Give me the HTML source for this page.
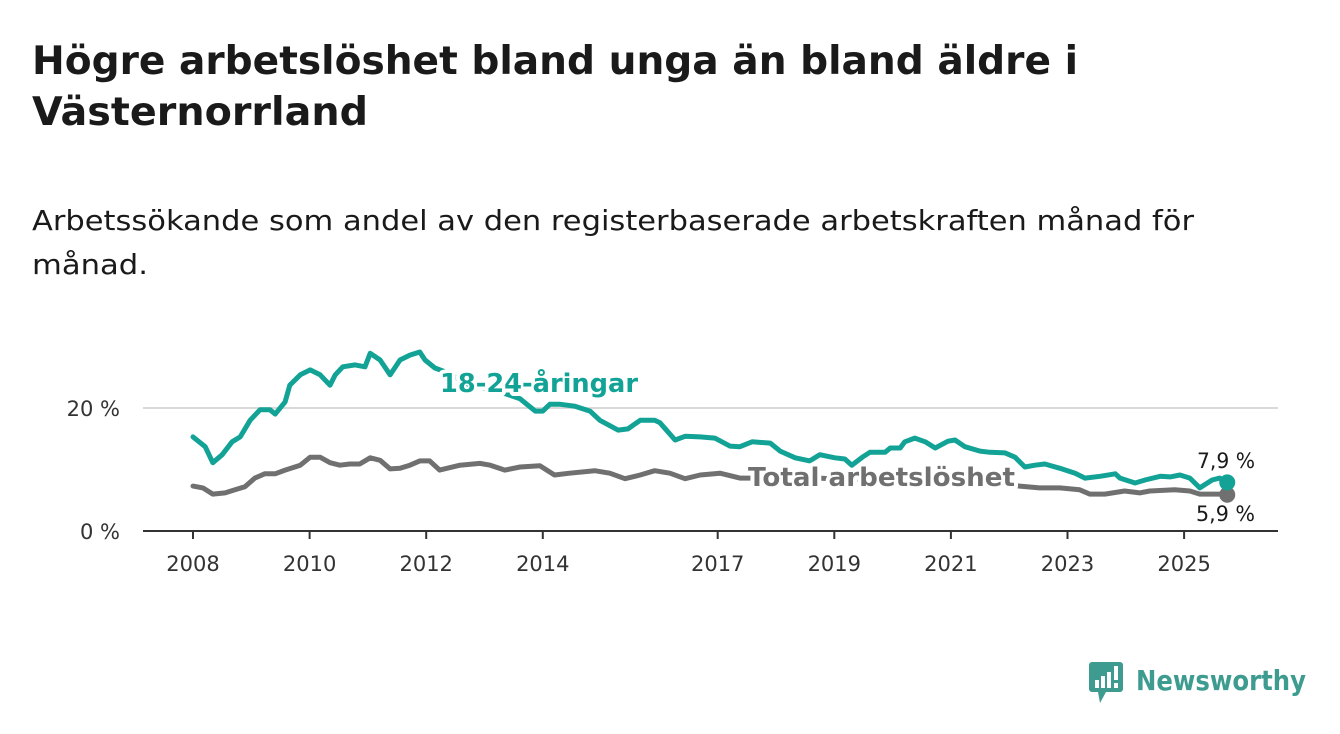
<!DOCTYPE html>
<html><head><meta charset="utf-8"><style>
html,body{margin:0;padding:0;background:#fff;width:1340px;height:734px;overflow:hidden}
svg{display:block;font-family:"DejaVu Sans","Liberation Sans",sans-serif}
</style></head><body>
<svg id="chart" width="1340" height="734" viewBox="0 0 1340 734">
<text x="32" y="74" font-size="39" font-weight="bold" fill="#1a1a1a" textLength="1046" lengthAdjust="spacingAndGlyphs">Högre arbetslöshet bland unga än bland äldre i</text>
<text x="32" y="125" font-size="39" font-weight="bold" fill="#1a1a1a" textLength="336" lengthAdjust="spacingAndGlyphs">Västernorrland</text>
<text x="32" y="230" font-size="28" fill="#1a1a1a" textLength="1162" lengthAdjust="spacingAndGlyphs">Arbetssökande som andel av den registerbaserade arbetskraften månad för</text>
<text x="32" y="274" font-size="28" fill="#1a1a1a" textLength="116" lengthAdjust="spacingAndGlyphs">månad.</text>
<g id="grid"></g>
<g id="series"></g>
<g id="labels"></g>
<g>
<rect x="1089" y="662" width="34" height="30" rx="3" fill="#3d9c8f"/>
<polygon points="1098,692 1106,692 1100,703" fill="#3d9c8f"/>
<rect x="1095" y="680" width="4" height="8" fill="#fff"/>
<rect x="1101" y="676" width="4" height="12" fill="#fff"/>
<rect x="1107" y="672" width="4" height="16" fill="#fff"/>
<rect x="1114" y="666" width="4" height="14" fill="#fff"/>
<rect x="1114" y="683" width="4" height="5" fill="#fff"/>
<text x="1136" y="690" font-size="28" font-weight="bold" fill="#3d9c8f" textLength="170" lengthAdjust="spacingAndGlyphs">Newsworthy</text>
</g>
</svg>
<script>
const youthYears=[2008.00,2008.21,2008.34,2008.50,2008.67,2008.81,2008.98,2009.15,2009.32,2009.41,2009.58,2009.66,2009.84,2010.01,2010.18,2010.35,2010.44,2010.57,2010.78,2010.95,2011.04,2011.21,2011.38,2011.46,2011.55,2011.72,2011.89,2011.98,2012.15,2012.32,2012.75,2013.27,2013.61,2013.87,2014.00,2014.12,2014.30,2014.55,2014.81,2014.98,2015.29,2015.46,2015.67,2015.92,2016.01,2016.27,2016.44,2016.70,2016.95,2017.21,2017.38,2017.59,2017.90,2018.07,2018.33,2018.58,2018.75,2019.01,2019.18,2019.30,2019.48,2019.61,2019.87,2019.96,2020.13,2020.21,2020.38,2020.56,2020.73,2020.95,2021.07,2021.24,2021.50,2021.67,2021.93,2022.10,2022.27,2022.44,2022.61,2022.87,2023.13,2023.30,2023.56,2023.82,2023.90,2024.16,2024.33,2024.59,2024.76,2024.93,2025.10,2025.27,2025.48,2025.61,2025.74];
const youthValues=[15.3,13.7,11.1,12.4,14.5,15.3,18.0,19.7,19.7,19.0,21.0,23.7,25.4,26.2,25.4,23.7,25.4,26.7,27.0,26.7,28.9,27.8,25.4,26.5,27.8,28.6,29.1,27.8,26.5,25.9,23.7,22.6,21.5,19.5,19.5,20.6,20.6,20.3,19.5,18.0,16.4,16.6,18.0,18.0,17.6,14.8,15.4,15.3,15.1,13.8,13.7,14.5,14.3,13.0,11.9,11.4,12.4,11.9,11.7,10.7,12.0,12.8,12.8,13.5,13.5,14.5,15.1,14.5,13.5,14.6,14.8,13.7,13.0,12.8,12.7,12.0,10.4,10.7,10.9,10.2,9.4,8.6,8.9,9.3,8.6,7.8,8.3,8.9,8.8,9.1,8.6,7.0,8.3,8.6,7.9];
const totalYears=[2008.00,2008.17,2008.34,2008.55,2008.72,2008.89,2009.06,2009.23,2009.41,2009.58,2009.84,2010.01,2010.18,2010.35,2010.52,2010.69,2010.86,2011.04,2011.21,2011.38,2011.55,2011.72,2011.89,2012.06,2012.23,2012.58,2012.92,2013.10,2013.35,2013.61,2013.95,2014.20,2014.46,2014.89,2015.15,2015.41,2015.67,2015.92,2016.18,2016.44,2016.70,2017.04,2017.38,2017.72,2018.24,2018.75,2019.27,2019.78,2020.30,2020.81,2021.33,2021.84,2022.18,2022.52,2022.87,2023.21,2023.38,2023.64,2023.98,2024.24,2024.41,2024.84,2025.10,2025.27,2025.61,2025.74];
const totalValues=[7.3,7.0,6.0,6.2,6.7,7.2,8.6,9.3,9.3,9.9,10.7,12.0,12.0,11.1,10.7,10.9,10.9,11.9,11.5,10.1,10.2,10.7,11.4,11.4,9.9,10.7,11.0,10.7,9.9,10.4,10.6,9.1,9.4,9.8,9.4,8.5,9.1,9.8,9.4,8.5,9.1,9.4,8.6,8.6,8.3,8.6,8.3,8.5,8.7,8.9,8.5,7.8,7.3,7.0,7.0,6.7,6.0,6.0,6.5,6.2,6.5,6.7,6.5,6.0,6.0,5.9];
const xTicks=[2008,2010,2012,2014,2017,2019,2021,2023,2025];
const yTicks=[0,20];
const yTickLabels=["0 %","20 %"];

const NS="http://www.w3.org/2000/svg";
const xS=y=>193+(y-2008)*58.3;
const yS=v=>531-v*6.15;
function mk(tag,attrs,parent){const e=document.createElementNS(NS,tag);for(const k in attrs)e.setAttribute(k,attrs[k]);parent.appendChild(e);return e;}
const grid=document.getElementById('grid'),series=document.getElementById('series'),labels=document.getElementById('labels');
yTicks.forEach((t,i)=>{
  if(t!==0){const g=mk('line',{x1:143,x2:1278,y1:yS(t),y2:yS(t),stroke:'#d9d9d9','stroke-width':2},grid);
  
  }
  const l=mk('text',{x:120,y:yS(t)+8,'font-size':21,fill:'#333','text-anchor':'end'},grid);
  l.textContent=yTickLabels[i];
  
  
});
const ax=mk('line',{x1:143,x2:1278,y1:531,y2:531,stroke:'#333','stroke-width':2},grid);


xTicks.forEach(t=>{
  const tk=mk('line',{x1:xS(t),x2:xS(t),y1:531,y2:539,stroke:'#333','stroke-width':2},grid);
  
  
  const l=mk('text',{x:xS(t),y:571,'font-size':21,fill:'#333','text-anchor':'middle'},grid);
  l.textContent=t;
  
  
});
function line(xs,vs,color,name){
  const d=xs.map((x,i)=>(i?'L':'M')+xS(x).toFixed(1)+','+yS(vs[i]).toFixed(1)).join('');
  const p=mk('path',{d:d,fill:'none',stroke:color,'stroke-width':5,'stroke-linejoin':'round','stroke-linecap':'round'},series);
  
  
  const c=mk('circle',{cx:xS(xs[xs.length-1]),cy:yS(vs[vs.length-1]),r:8,fill:color},series);
  
  
}
line(totalYears,totalValues,'#707070','total-line');
line(youthYears,youthValues,'#12a396','youth-line');
function lbl(x,y,txt,color,size,bold,len,name){
  const t=mk('text',{x:x,y:y,'font-size':size,fill:color,'font-weight':bold?'bold':'normal',stroke:'#fff','stroke-width':bold?8:5,'paint-order':'stroke','stroke-linejoin':'round',textLength:len,lengthAdjust:'spacingAndGlyphs'},labels);
  t.textContent=txt;
  
  
}
lbl(440,392,'18-24-åringar','#12a396',26,true,198,'youth-series-label');
lbl(748,486,'Total arbetslöshet','#707070',26,true,267,'total-series-label');
lbl(1197,468,'7,9 %','#1a1a1a',21,false,58,'youth-last-value');
lbl(1196,521,'5,9 %','#1a1a1a',21,false,59,'total-last-value');
</script>
</body></html>
